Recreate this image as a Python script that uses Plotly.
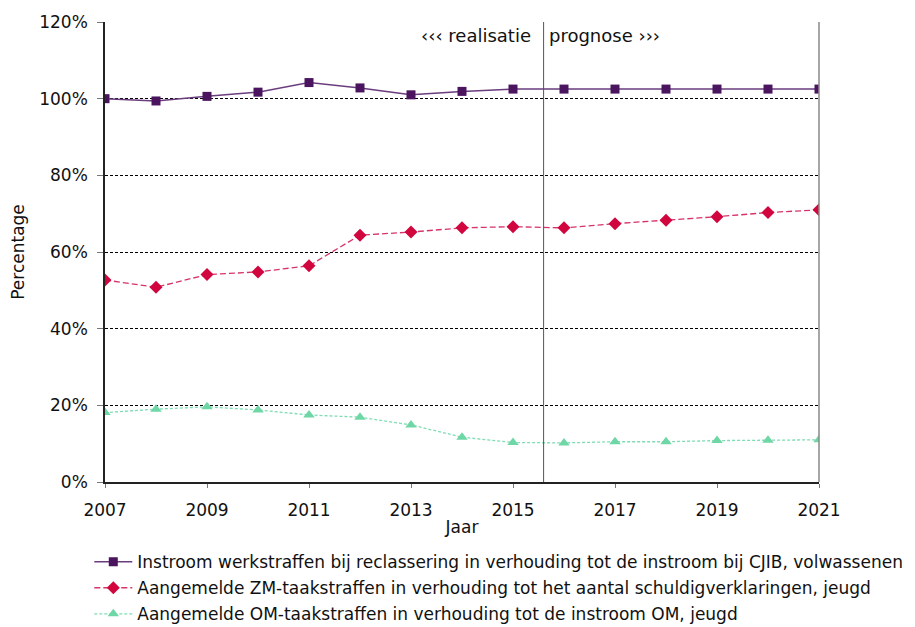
import plotly.graph_objects as go

years = list(range(2007, 2022))
werkstraffen = [100.0, 99.4, 100.6, 101.7, 104.2, 102.8, 101.0, 101.9, 102.5, 102.5, 102.5, 102.5, 102.5, 102.5, 102.5]
zm_jeugd = [52.7, 50.8, 54.1, 54.8, 56.4, 64.4, 65.2, 66.3, 66.6, 66.3, 67.4, 68.3, 69.2, 70.3, 71.0]
om_jeugd = [18.1, 19.0, 19.6, 18.8, 17.5, 16.9, 14.9, 11.7, 10.3, 10.2, 10.5, 10.5, 10.8, 10.9, 11.0]
names = [
    "Instroom werkstraffen bij reclassering in verhouding tot de instroom bij CJIB, volwassenen",
    "Aangemelde ZM-taakstraffen in verhouding tot het aantal schuldigverklaringen, jeugd",
    "Aangemelde OM-taakstraffen in verhouding tot de instroom OM, jeugd",
]
y_ticks = [0, 20, 40, 60, 80, 100, 120]
y_ticktext = [f"{v}%" for v in y_ticks]
split_year = 2015.6

FONT = "DejaVu Sans"

fig = go.Figure()
fig.add_trace(go.Scatter(x=years, y=werkstraffen, name=names[0], mode="lines+markers", legendgroup="a",
                         line=dict(color="#6a3d7e", width=1.5),
                         marker=dict(symbol="square", size=9, color="#4a145e")))
fig.add_trace(go.Scatter(x=years, y=zm_jeugd, name=names[1], mode="lines+markers", legendgroup="b",
                         line=dict(color="#d6336a", width=1.3, dash="6px,3px"),
                         marker=dict(symbol="diamond", size=10, color="#d1063f")))
fig.add_trace(go.Scatter(x=years, y=om_jeugd, name=names[2], mode="lines+markers", legendgroup="c",
                         line=dict(color="#7fdcb4", width=1.3, dash="3px,2px"),
                         marker=dict(symbol="triangle-up", size=10, color="#6fd6a6")))

fig.add_shape(type="line", xref="x", yref="paper", x0=split_year, x1=split_year, y0=0, y1=1,
              line=dict(color="#555555", width=1))
fig.add_shape(type="line", xref="paper", yref="paper", x0=1, x1=1, y0=0, y1=1,
              line=dict(color="#888888", width=1.5))

fig.add_annotation(x=split_year, y=116.5, xref="x", yref="y", text="‹‹‹ realisatie", showarrow=False,
                   xanchor="right", xshift=-11, font=dict(family=FONT, size=18, color="#111"))
fig.add_annotation(x=split_year, y=116.5, xref="x", yref="y", text="prognose ›››", showarrow=False,
                   xanchor="left", xshift=3, font=dict(family=FONT, size=18, color="#111"))

fig.update_layout(
    width=907, height=619,
    margin=dict(l=97, r=96, t=14, b=145, autoexpand=False),
    paper_bgcolor="white", plot_bgcolor="white",
    font=dict(family=FONT, size=17, color="#111"),
    showlegend=True,
    legend=dict(orientation="v", x=-0.022, xanchor="left", y=-0.135, yanchor="top",
                font=dict(family=FONT, size=17, color="#111"), tracegroupgap=1,
                traceorder="grouped", itemwidth=38, bgcolor="rgba(0,0,0,0)"),
    xaxis=dict(range=[2007, 2021], tickvals=list(range(2007, 2022, 2)), showgrid=False,
               showline=True, linecolor="#222", linewidth=1.5, ticks="outside", ticklen=4,
               tickcolor="#777", zeroline=False, automargin=False, ticklabelstandoff=8,
               title=dict(text="Jaar", font=dict(family=FONT, size=17), standoff=2)),
    yaxis=dict(range=[0, 120], tickvals=y_ticks, ticktext=y_ticktext,
               showgrid=True, gridcolor="#000", gridwidth=1, griddash="3px,2px",
               showline=True, linecolor="#222", linewidth=1.5, ticks="outside", ticklen=6,
               tickcolor="#777", zeroline=False, automargin=False, ticklabelstandoff=6,
               title=dict(text="Percentage", font=dict(family=FONT, size=17), standoff=16)),
)

fig.write_html("out.html")
